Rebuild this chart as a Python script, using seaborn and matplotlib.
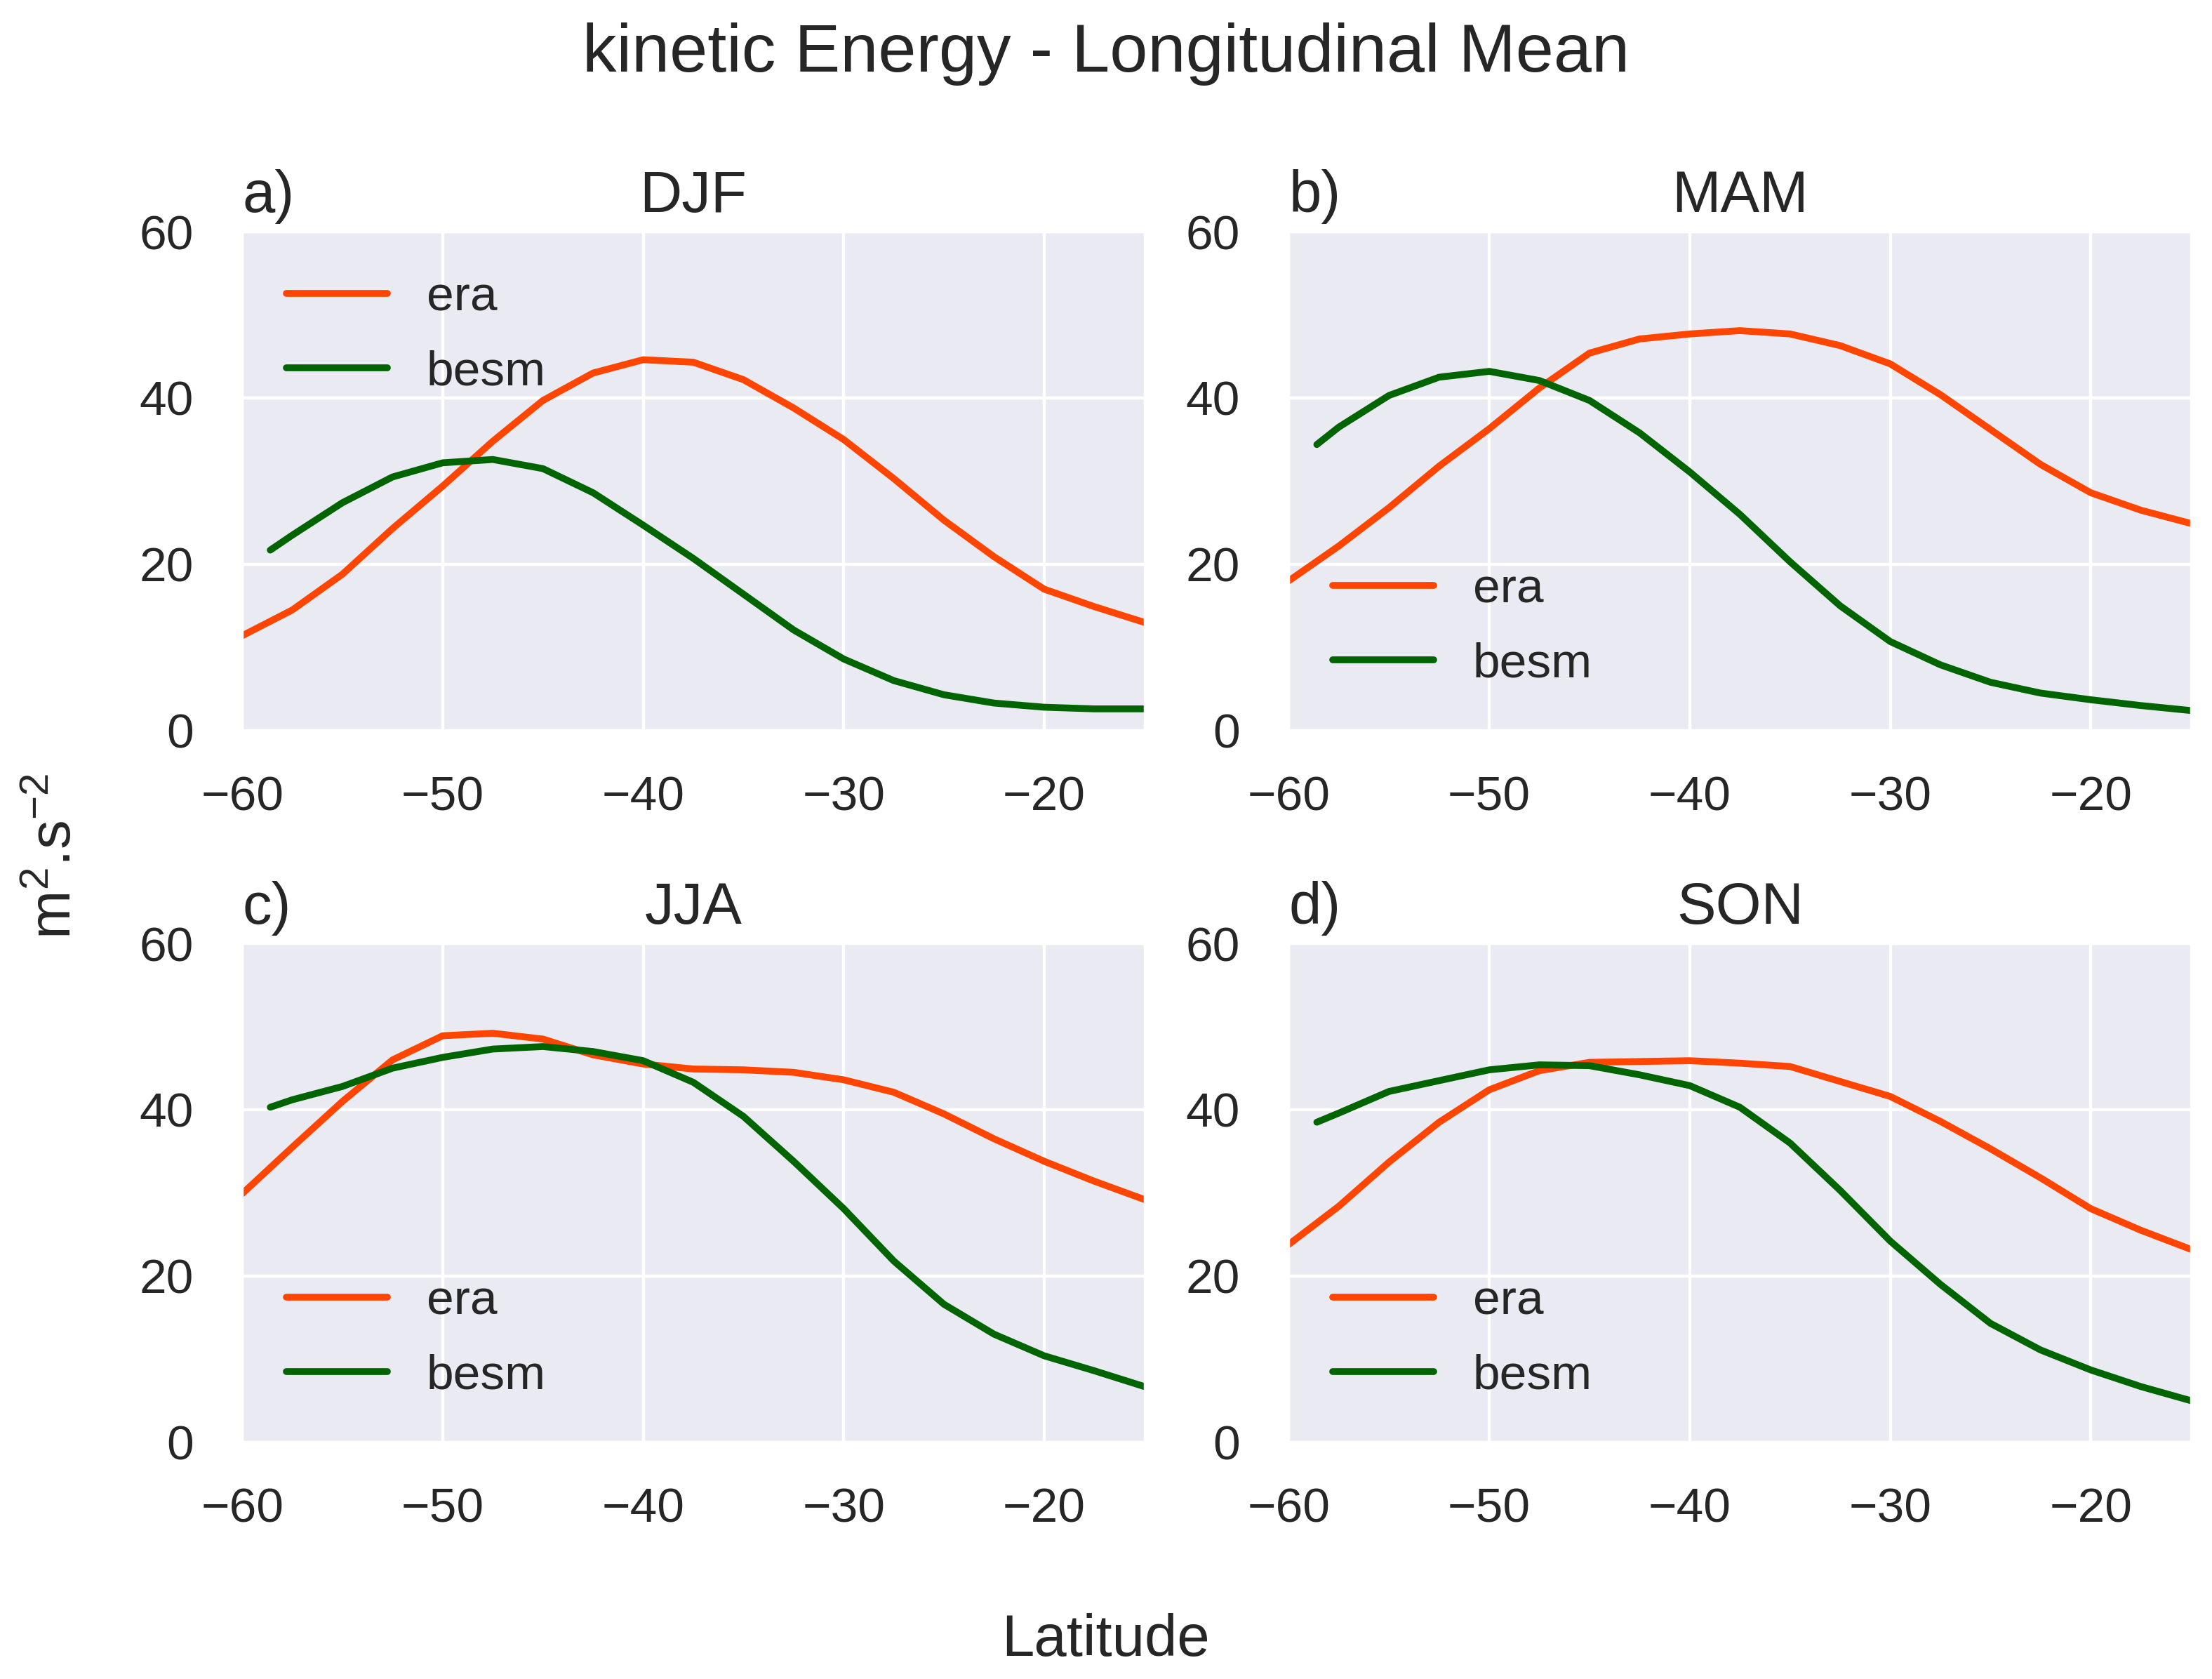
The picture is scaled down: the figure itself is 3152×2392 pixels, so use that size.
import numpy as np
import pandas as pd
import matplotlib.pyplot as plt
import seaborn as sns

sns.set_theme(style='darkgrid')
plt.rcParams['font.family'] = ['Liberation Sans', 'DejaVu Sans']
plt.rcParams['mathtext.fontset'] = 'custom'
plt.rcParams['mathtext.rm'] = 'Liberation Sans'
plt.rcParams['mathtext.it'] = 'Liberation Sans:italic'
plt.rcParams['mathtext.default'] = 'regular'

# ------------------------- data -------------------------------------------------------
seasons = ['DJF', 'MAM', 'JJA', 'SON']
panel_letters = ['a)', 'b)', 'c)', 'd)']
legend_locs = ['upper left', 'lower left', 'lower left', 'lower left']

lat_era = [-60, -57.5, -55, -52.5, -50, -47.5, -45, -42.5, -40, -37.5,
           -35, -32.5, -30, -27.5, -25, -22.5, -20, -17.5, -15]
lat_besm = [-58.6, -57.5, -55, -52.5, -50, -47.5, -45, -42.5, -40, -37.5,
            -35, -32.5, -30, -27.5, -25, -22.5, -20, -17.5, -15]

era_djf = [11.4, 14.5, 18.8, 24.3, 29.4, 34.8, 39.7, 43.0, 44.6, 44.3,
           42.2, 38.8, 35.0, 30.3, 25.3, 20.9, 17.0, 14.9, 13.0]
besm_djf = [21.7, 23.5, 27.4, 30.5, 32.2, 32.6, 31.5, 28.6, 24.7, 20.7,
            16.4, 12.1, 8.6, 6.0, 4.3, 3.3, 2.8, 2.6, 2.6]

era_mam = [18.0, 22.2, 26.8, 31.8, 36.3, 41.2, 45.4, 47.1, 47.7, 48.1,
           47.7, 46.3, 44.1, 40.4, 36.2, 32.0, 28.6, 26.5, 24.9]
besm_mam = [34.4, 36.5, 40.3, 42.5, 43.2, 42.1, 39.7, 35.8, 31.1, 26.0,
            20.3, 15.0, 10.7, 7.9, 5.8, 4.5, 3.7, 3.0, 2.4]

era_jja = [29.9, 35.5, 41.0, 46.0, 48.9, 49.2, 48.5, 46.6, 45.5, 44.9,
           44.8, 44.5, 43.6, 42.1, 39.5, 36.5, 33.8, 31.4, 29.2]
besm_jja = [40.3, 41.2, 42.8, 45.0, 46.3, 47.3, 47.6, 47.0, 45.9, 43.3,
            39.2, 33.8, 28.1, 21.8, 16.6, 13.0, 10.4, 8.6, 6.7]

era_son = [23.8, 28.4, 33.7, 38.5, 42.4, 44.7, 45.7, 45.8, 45.9, 45.6,
           45.2, 43.4, 41.6, 38.6, 35.3, 31.8, 28.1, 25.5, 23.2]
besm_son = [38.5, 39.6, 42.2, 43.5, 44.8, 45.4, 45.3, 44.2, 42.9, 40.3,
            36.0, 30.3, 24.2, 19.0, 14.3, 11.1, 8.7, 6.7, 5.0]

era_all = [era_djf, era_mam, era_jja, era_son]
besm_all = [besm_djf, besm_mam, besm_jja, besm_son]

colors = {'era': 'orangered', 'besm': 'darkgreen'}

# long table for seaborn
rows = []
for s, e, b in zip(seasons, era_all, besm_all):
    rows.append(pd.DataFrame({'lat': lat_era, 'ke': e, 'source': 'era', 'season': s}))
    rows.append(pd.DataFrame({'lat': lat_besm, 'ke': b, 'source': 'besm', 'season': s}))
df = pd.concat(rows, ignore_index=True)

# ------------------------- plot --------------------------------
fig, axes = plt.subplots(2, 2, figsize=(15.76, 11.96), dpi=200)
fig.subplots_adjust(left=0.1095, right=0.9905, top=0.862, bottom=0.141,
                    wspace=0.16, hspace=0.427)

for i, ax in enumerate(axes.flat):
    d = df[df['season'] == seasons[i]]
    sns.lineplot(data=d, x='lat', y='ke', hue='source', palette=colors,
                 hue_order=['era', 'besm'], linewidth=3.5, ax=ax)
    ax.set_xlim(-60, -15)
    ax.set_ylim(0, 60)
    ax.set_xticks([-60, -50, -40, -30, -20])
    ax.set_yticks([0, 20, 40, 60])
    ax.set_xlabel('')
    ax.set_ylabel('')
    ax.tick_params(axis='x', labelsize=25, pad=17, colors='.15')
    ax.tick_params(axis='y', labelsize=25, pad=19, colors='.15')
    ax.grid(True, color='white', linewidth=1.6)
    ax.set_title(seasons[i], fontsize=30, pad=10, color='.15')
    ax.set_title(panel_letters[i], loc='left', fontsize=30, pad=10, color='.15')
    handles, labels = ax.get_legend_handles_labels()
    for h in handles:
        h.set_linewidth(3.5)
    ax.legend(handles, labels, loc=legend_locs[i], fontsize=25, frameon=False,
              handlelength=2.08, handletextpad=0.8, labelspacing=0.6,
              borderaxespad=0.52, borderpad=0.38)

fig.suptitle('kinetic Energy - Longitudinal Mean', fontsize=35, y=0.968, va='center')
fig.text(0.5, 0.023, 'Latitude', ha='center', va='center', fontsize=30, color='.15')
fig.text(0.025, 0.49, 'm$^2$.s$^{-2}$', rotation=90, ha='center', va='center',
         fontsize=30, color='.15')

plt.savefig('out.png', dpi=200)
